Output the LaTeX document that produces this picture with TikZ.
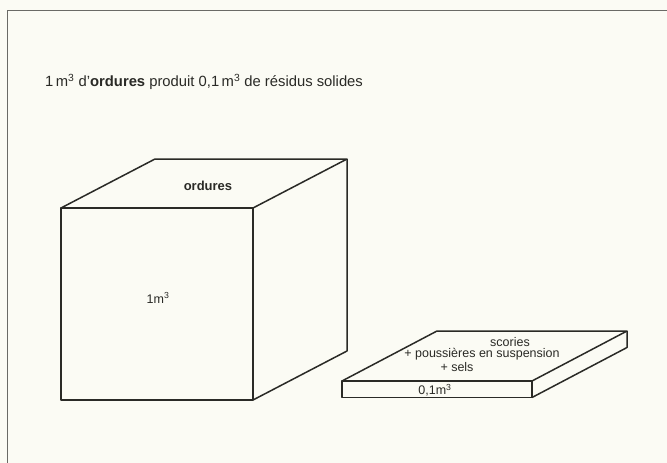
\documentclass[tikz,border=0pt]{standalone}
\usepackage{fontspec}
\setmainfont{Liberation Sans}
\definecolor{bg}{HTML}{FBFBF4}
\definecolor{ink}{HTML}{2A2A26}
\definecolor{framec}{HTML}{6A6A66}
\newcommand{\cubsup}{\textsuperscript{\scriptsize 3}}
\begin{document}
\begin{tikzpicture}[x=1pt,y=-1pt,
  edge/.style={draw=ink, line width=1.5pt, line join=round},
  frameline/.style={draw=framec, line width=1.4pt},
  title/.style={text=ink, font=\fontsize{14.8}{17}\selectfont, inner sep=0pt, anchor=west},
  lbl/.style={text=ink, font=\fontsize{12.5}{14}\selectfont, inner sep=0pt},
  blbl/.style={text=ink, font=\fontsize{13}{15}\selectfont\bfseries, inner sep=0pt}]
\useasboundingbox[fill=bg] (0,0) rectangle (667,463);
\draw[frameline] (667,10.5) -- (7.5,10.5) -- (7.5,463);
% title
\node[title] (t) at (45,82) {1\,m\textsuperscript{3} d’\textbf{ordures} produit 0,1\,m\textsuperscript{3} de résidus solides};
% cube
\coordinate (ftl) at (61,208);
\coordinate (ftr) at (253,208);
\coordinate (fbl) at (61,400);
\coordinate (fbr) at (253,400);
\coordinate (btl) at (155,159);
\coordinate (btr) at (347,159);
\coordinate (bbr) at (347,351);
\draw[edge] (ftl) -- (ftr) -- (fbr) -- (fbl) -- cycle;
\draw[edge] (ftl) -- (btl) -- (btr) -- (ftr);
\draw[edge] (btr) -- (bbr) -- (fbr);
\node[blbl] (ord) at (208,186) {ordures};
\node[lbl] (vol1) at (158,298) {1m\textsuperscript{3}};
% slab
\coordinate (stl) at (342,381);
\coordinate (str) at (532,381);
\coordinate (sbl) at (342,397.5);
\coordinate (sbr) at (532,397.5);
\coordinate (sbtl) at (437,331);
\coordinate (sbtr) at (627,331);
\coordinate (sbbr) at (627,347.5);
\draw[edge] (stl) -- (str) -- (sbr) -- (sbl) -- cycle;
\draw[edge] (stl) -- (sbtl) -- (sbtr) -- (str);
\draw[edge] (sbtr) -- (sbbr) -- (sbr);
\node[lbl] (sc) at (510,342) {scories};
\node[lbl] (pous) at (482,354.5) {+ poussières en suspension};
\node[lbl] (sels) at (457,367.5) {+ sels};
\node[lbl] (vol2) at (435,390) {0,1m\textsuperscript{3}};
\end{tikzpicture}
\end{document}
